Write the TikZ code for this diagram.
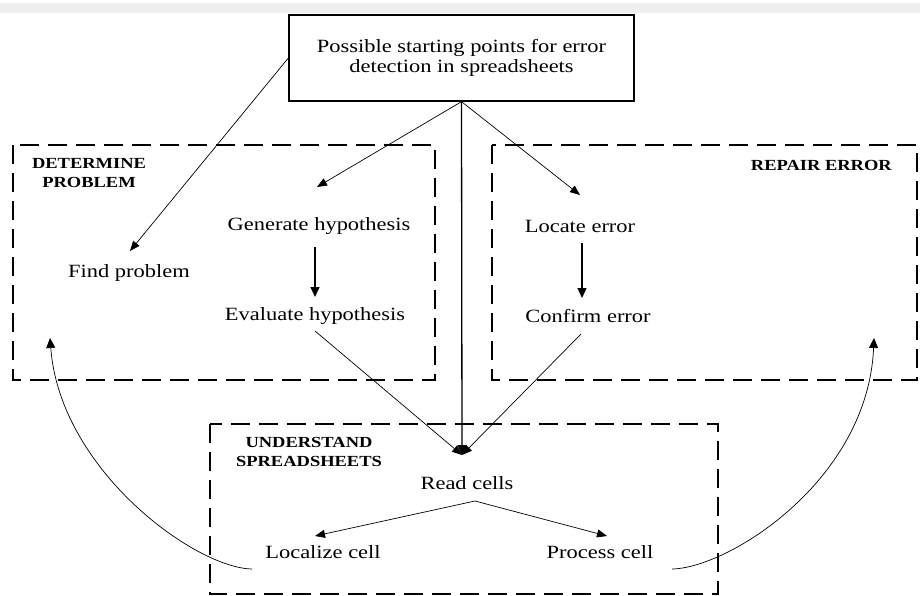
\documentclass[tikz,border=0pt]{standalone}
\usepackage{fontspec}
\setmainfont[FakeStretch=1.2]{Liberation Serif}
\usetikzlibrary{arrows.meta}
\definecolor{bandgray}{RGB}{239,239,239}
\begin{document}
\begin{tikzpicture}[x=1pt,y=-1pt,
  lbl/.style={font=\fontsize{18.7}{20}\selectfont, inner sep=0pt},
  head/.style={font=\fontsize{15.4}{19}\selectfont\bfseries, inner sep=0pt, align=center},
  region/.style={draw, dash pattern=on 19pt off 9pt, line width=1.2pt},
  thinarr/.style={line width=0.7pt, -{Triangle[length=10pt,width=8pt]}},
  thickarr/.style={line width=1.3pt, -{Triangle[length=10pt,width=9pt]}},
  curvarr/.style={line width=0.7pt, -{Triangle[length=10pt,width=9pt]}}]
\useasboundingbox (0,0) rectangle (920,596);
\fill[bandgray] (0,3) rectangle (920,13);

% top box
\node[draw, line width=1.3pt, minimum width=345pt, minimum height=86pt, inner sep=0pt,
      align=center, font=\fontsize{18.7}{20}\selectfont] (top) at (461.5,58)
      {Possible starting points for error\\detection in spreadsheets};

% regions
\draw[region] (13,145) rectangle (435,380);
\draw[region] (492,145) rectangle (917,380);
\draw[region] (210,424) rectangle (718,594);

% region titles
\node[head] (detl) at (89,173) {DETERMINE\\PROBLEM};
\node[head, anchor=east] (repl) at (892,165) {REPAIR ERROR};
\node[head] (undl) at (309,452) {UNDERSTAND\\SPREADSHEETS};

% labels
\node[lbl] (gen) at (319,226) {Generate hypothesis};
\node[lbl] (find) at (129,273) {Find problem};
\node[lbl] (eval) at (315,316) {Evaluate hypothesis};
\node[lbl] (loc) at (580,226) {Locate error};
\node[lbl] (conf) at (588,316) {Confirm error};
\node[lbl] (read) at (467,483) {Read cells};
\node[lbl] (lcell) at (323,552) {Localize cell};
\node[lbl] (pcell) at (600,552) {Process cell};

% connector end points
\coordinate (fpIn) at (130,251);
\coordinate (ghIn) at (317,187);
\coordinate (leIn) at (580,195);
\coordinate (rcIn) at (462,455);
\coordinate (ghOut) at (315,247);
\coordinate (ehIn) at (315,297);
\coordinate (leOut) at (582,243);
\coordinate (ceIn) at (582,298);
\coordinate (ehOut) at (315,331);
\coordinate (ceOut) at (581,334);
\coordinate (rcOut) at (475,501);
\coordinate (lcIn) at (315,536);
\coordinate (pcIn) at (607,536);
\coordinate (lcOut) at (252,569);
\coordinate (pcOut) at (672,569);
\coordinate (dpIn) at (50,338);
\coordinate (reIn) at (874,338);

% connectors
\draw[thinarr] (top.west) -- (fpIn);
\draw[thinarr] (top.south) -- (ghIn);
\draw[thinarr] (top.south) -- (leIn);
\draw[thickarr] (top.south) -- (rcIn);
\draw[thickarr] (ghOut) -- (ehIn);
\draw[thickarr] (leOut) -- (ceIn);
\draw[thinarr] (ehOut) -- (rcIn);
\draw[thinarr] (ceOut) -- (rcIn);
\draw[thinarr] (rcOut) -- (lcIn);
\draw[thinarr] (rcOut) -- (pcIn);
\draw[curvarr] (lcOut) .. controls (195,568) and (60,470) .. (dpIn);
\draw[curvarr] (pcOut) .. controls (729,568) and (868,480) .. (reIn);
\end{tikzpicture}
\end{document}
